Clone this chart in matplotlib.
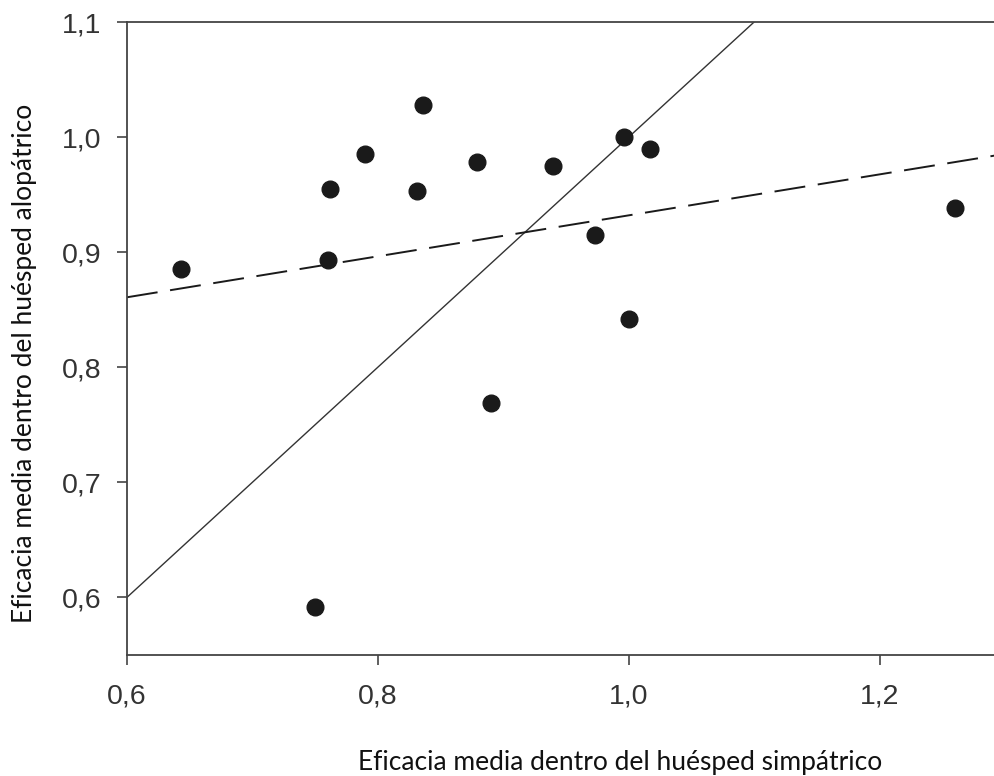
import matplotlib.pyplot as plt
import numpy as np

# mean efficacy inside the sympatric host (x) and the allopatric host (y)
simpatrico = [0.643, 0.760, 0.762, 0.790, 0.831, 0.836, 0.879, 0.940, 0.996,
              1.017, 0.973, 1.260, 1.000, 0.890, 0.750]
alopatrico = [0.885, 0.893, 0.955, 0.985, 0.953, 1.028, 0.978, 0.975, 1.000,
              0.990, 0.915, 0.938, 0.842, 0.769, 0.592]

# fitted line y = a + b*x
reg_a = 0.754
reg_b = 0.178

xticks = [0.6, 0.8, 1.0, 1.2]
yticks = [0.6, 0.7, 0.8, 0.9, 1.0, 1.1]
xlim = (0.6, 1.292)
ylim = (0.55, 1.1)

plt.rcParams['font.family'] = ['Liberation Sans', 'DejaVu Sans']

fig = plt.figure(figsize=(9.95, 7.76), dpi=100)
ax = fig.add_axes([0.1275, 1 - 655 / 776, 1 - 0.1275, (655 - 22) / 776])

# 1:1 line
xx = np.array(xlim)
ax.plot(xx, xx, color='#333333', lw=1.0, zorder=2)
# regression line
ax.plot(xx, reg_a + reg_b * xx, color='#1a1a1a', lw=1.4,
        dashes=(16, 6.5), zorder=2)

ax.plot(simpatrico, alopatrico, 'o', color='#1a1a1a', ms=12, mec='#1a1a1a',
        zorder=3, clip_on=False)

ax.set_xlim(*xlim)
ax.set_ylim(*ylim)
ax.set_xticks(xticks)
ax.set_yticks(yticks)
ax.set_xticklabels([f'{v:.1f}'.replace('.', ',') for v in xticks])
ax.set_yticklabels([f'{v:.1f}'.replace('.', ',') for v in yticks])

for side in ['left', 'bottom', 'top']:
    ax.spines[side].set_color('#444444')
    ax.spines[side].set_linewidth(1.3)
ax.spines['right'].set_visible(False)

ax.tick_params(axis='both', direction='out', length=7.5, width=1.2,
               color='#444444', labelsize=20.5, labelcolor='#333333')
ax.tick_params(axis='x', pad=13)
ax.tick_params(axis='y', pad=11)

ax.set_xlabel('Eficacia media dentro del huésped simpátrico',
              family=['Lato', 'DejaVu Sans'], fontsize=19, color='#111111')
ax.xaxis.set_label_coords(620 / 995, 1 - 770 / 776, transform=fig.transFigure)
ax.xaxis.label.set_va('baseline')

ax.set_ylabel('Eficacia media dentro del huésped alopátrico',
              family=['Lato', 'DejaVu Sans'], fontsize=19, color='#111111')
ax.yaxis.set_label_coords(25 / 995, 1 - 363 / 776, transform=fig.transFigure)
ax.yaxis.label.set_va('center')

plt.savefig('out.png', dpi=100)
